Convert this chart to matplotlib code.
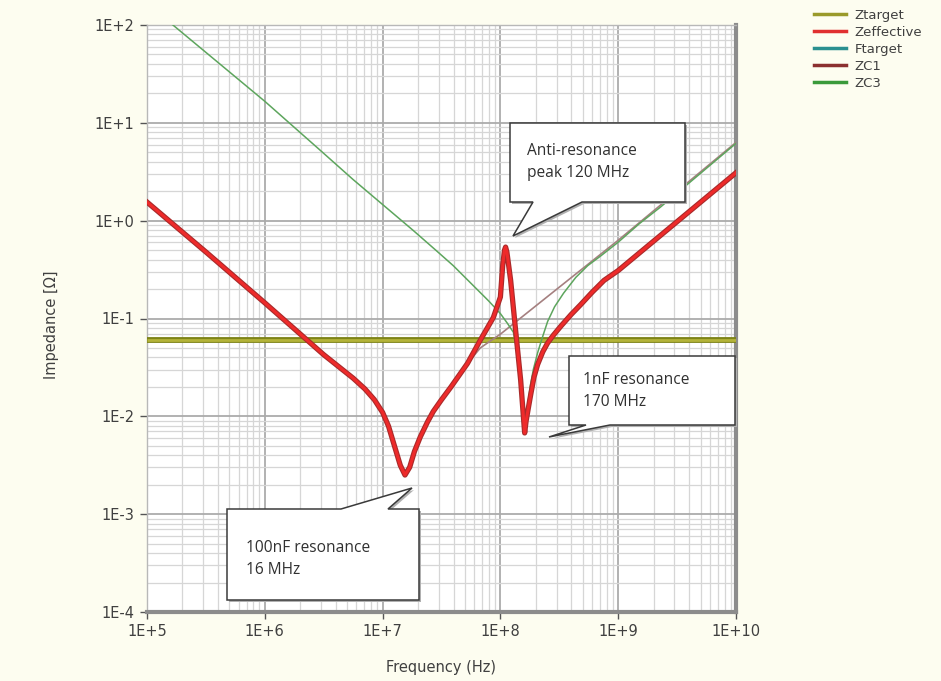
import numpy as np
import matplotlib
matplotlib.use("Agg")
import matplotlib.pyplot as plt
import matplotlib.patheffects as pe
from matplotlib.patches import Polygon
from matplotlib.lines import Line2D
from matplotlib.ticker import FixedLocator, FixedFormatter, LogLocator, NullFormatter

# values, as log10(frequency / Hz) and log10(impedance / ohm)
zeff_logf = [5.00, 5.50, 6.00, 6.50, 6.75, 6.85, 6.93, 7.00, 7.05, 7.10, 7.15, 7.19,
             7.23, 7.27, 7.32, 7.38, 7.43, 7.50, 7.58, 7.72, 7.83, 7.94, 8.00, 8.02,
             8.035, 8.044, 8.055, 8.087, 8.129, 8.172, 8.195, 8.206, 8.218, 8.235,
             8.257, 8.285, 8.316, 8.36, 8.401, 8.45, 8.512, 8.60, 8.68, 8.78, 8.88,
             9.00, 9.50, 10.00]
zeff_logz = [0.19, -0.32, -0.84, -1.37, -1.61, -1.72, -1.83, -1.96, -2.10, -2.30, -2.50, -2.60,
             -2.52, -2.36, -2.21, -2.06, -1.95, -1.83, -1.70, -1.46, -1.22, -0.99, -0.78, -0.45,
             -0.30, -0.27, -0.32, -0.61, -1.12, -1.63, -2.00, -2.17, -2.05, -1.93,
             -1.78, -1.60, -1.47, -1.34, -1.25, -1.17, -1.08, -0.96, -0.86, -0.73, -0.61,
             -0.51, -0.01, 0.49]

zc1_logf = [5.00, 5.50, 6.00, 6.50, 6.75, 6.85, 6.93, 7.00, 7.05, 7.10, 7.15, 7.19,
            7.23, 7.27, 7.32, 7.38, 7.43, 7.50, 7.58, 7.72, 7.83, 8.00, 8.51, 9.00,
            9.50, 10.00]
zc1_logz = [0.19, -0.32, -0.84, -1.37, -1.61, -1.72, -1.83, -1.96, -2.10, -2.30, -2.50, -2.60,
            -2.52, -2.36, -2.21, -2.06, -1.95, -1.83, -1.70, -1.46, -1.30, -1.16, -0.67, -0.20,
            0.30, 0.80]

zc3_logf = [5.00, 5.22, 6.00, 6.47, 6.75, 7.26, 7.45, 7.60, 7.75, 7.90, 8.00, 8.06,
            8.11, 8.15, 8.172, 8.195, 8.206, 8.218, 8.235, 8.255, 8.28, 8.316, 8.36,
            8.401, 8.46, 8.537, 8.64, 8.741, 8.852, 9.00, 9.18, 9.36, 10.00]
zc3_logz = [2.22, 2.00, 1.22, 0.72, 0.42, -0.10, -0.30, -0.46, -0.64, -0.82, -0.95, -1.05,
            -1.14, -1.38, -1.63, -2.00, -2.17, -2.04, -1.86, -1.68, -1.52, -1.35, -1.18,
            -1.03, -0.88, -0.74, -0.58, -0.46, -0.36, -0.22, -0.03, 0.14, 0.79]

ztarget_f = [1e5, 1e10]
ztarget_z = [0.06, 0.06]

xtick_vals = [1e5, 1e6, 1e7, 1e8, 1e9, 1e10]
xtick_text = ["1E+5", "1E+6", "1E+7", "1E+8", "1E+9", "1E+10"]
ytick_vals = [1e-4, 1e-3, 1e-2, 1e-1, 1e0, 1e1, 1e2]
ytick_text = ["1E-4", "1E-3", "1E-2", "1E-1", "1E+0", "1E+1", "1E+2"]

notes = ["Anti-resonance\npeak 120 MHz", "1nF resonance\n170 MHz", "100nF resonance\n16 MHz"]

W, H = 941, 681
fig = plt.figure(figsize=(W / 100, H / 100), dpi=100)
fig.patch.set_facecolor("#fdfdf0")

ax = fig.add_axes([147 / W, 1 - 612 / H, 589 / W, 587 / H])
ax.set_facecolor("white")
ax.set_xscale("log")
ax.set_yscale("log")
ax.set_xlim(1e5, 1e10)
ax.set_ylim(1e-4, 1e2)

ax.xaxis.set_minor_locator(LogLocator(base=10, subs=np.arange(2, 10)))
ax.yaxis.set_minor_locator(LogLocator(base=10, subs=np.arange(2, 10)))
ax.xaxis.set_minor_formatter(NullFormatter())
ax.yaxis.set_minor_formatter(NullFormatter())
ax.xaxis.set_major_locator(FixedLocator(xtick_vals))
ax.xaxis.set_major_formatter(FixedFormatter(xtick_text))
ax.yaxis.set_major_locator(FixedLocator(ytick_vals))
ax.yaxis.set_major_formatter(FixedFormatter(ytick_text))

ax.grid(True, which="minor", color="#d6d6d6", lw=0.9)
ax.grid(True, which="major", color="#ababab", lw=1.3)
ax.set_axisbelow(True)
ax.tick_params(which="minor", length=0)
ax.tick_params(which="major", length=5, width=1, color="#555555",
               labelsize=10.5, labelcolor="#404040", pad=4)

for s in ["top", "left"]:
    ax.spines[s].set_color("#b8b8b8")
    ax.spines[s].set_linewidth(1)
for s in ["right", "bottom"]:
    ax.spines[s].set_color("#8c8c8c")
    ax.spines[s].set_linewidth(3)

# curves
ax.plot(ztarget_f, ztarget_z, color="#b4b43a", lw=2, solid_capstyle="butt", zorder=3,
        path_effects=[pe.Stroke(linewidth=4.2, foreground="#7e8418"), pe.Normal()])
ax.plot(10 ** np.array(zc1_logf), 10 ** np.array(zc1_logz), color="#a58080", lw=1.2, zorder=4)
ax.plot(10 ** np.array(zc3_logf), 10 ** np.array(zc3_logz), color="#5da55d", lw=1.1, zorder=4)
ax.plot(10 ** np.array(zeff_logf), 10 ** np.array(zeff_logz), color="#ee2a2a", lw=2.2, zorder=5,
        solid_joinstyle="round",
        path_effects=[pe.Stroke(linewidth=3.8, foreground="#a82a2a"), pe.Normal()])

ax.set_xlabel("Frequency (Hz)", fontsize=10.5, color="#404040")
ax.set_ylabel("Impedance [\u03a9]", fontsize=10.5, color="#404040")
ax.xaxis.set_label_coords(0.5, -0.082)
ax.yaxis.set_label_coords(-0.15, 0.49)

# legend
handles = [Line2D([], [], color="#9a9a2a", lw=2.5),
           Line2D([], [], color="#e03030", lw=2.5),
           Line2D([], [], color="#2a9090", lw=2.5),
           Line2D([], [], color="#8b3030", lw=2.5),
           Line2D([], [], color="#3a9a3a", lw=2.5)]
fig.legend(handles, ["Ztarget", "Zeffective", "Ftarget", "ZC1", "ZC3"],
           loc="upper left", bbox_to_anchor=(806 / W, 1 - 1 / H), frameon=False,
           fontsize=9.5, handlelength=2.4, handletextpad=0.7, labelspacing=0.3,
           borderaxespad=0.2, labelcolor="#404040")


# callouts drawn in pixel positions of the figure
def px(pts):
    return [(x / W, 1 - y / H) for x, y in pts]


callouts = [
    [(510, 123), (685, 123), (685, 202), (582, 202), (513, 236), (533, 202), (510, 202)],
    [(569, 356), (735, 356), (735, 425), (610, 425), (549, 437), (586, 425), (569, 425)],
    [(227, 509), (341, 509), (412, 488), (388, 509), (419, 509), (419, 600), (227, 600)],
]
text_pos = [(527, 162), (583, 391), (246, 559)]

for shape, (tx, ty), label in zip(callouts, text_pos, notes):
    shadow = [(x + 2, y + 2) for x, y in shape]
    fig.patches.append(Polygon(px(shadow), closed=True, transform=fig.transFigure,
                               facecolor="#b0b0b0", edgecolor="none", zorder=6))
    fig.patches.append(Polygon(px(shape), closed=True, transform=fig.transFigure,
                               facecolor="white", edgecolor="#3a3a3a", lw=1.1, zorder=7))
    fig.text(tx / W, 1 - ty / H, label, fontsize=11.2, family="Open Sans", color="#303030",
             va="center", ha="left", linespacing=1.55, zorder=8)

fig.savefig("out.png", dpi=100, facecolor=fig.get_facecolor())
